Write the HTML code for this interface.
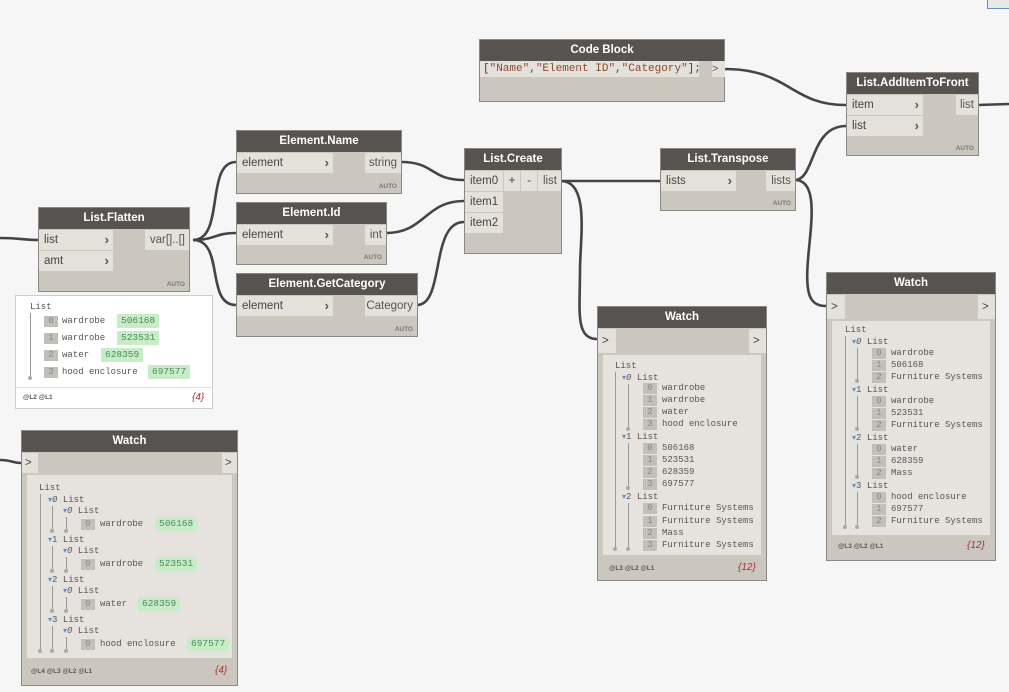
<!DOCTYPE html>
<html><head><meta charset="utf-8"><style>
body{margin:0;width:1009px;height:692px;background:#f6f6f6;position:relative;overflow:hidden;font-family:"Liberation Sans",sans-serif}
.n{position:absolute;background:#cbc7bf;border:1px solid #8b8882;box-sizing:border-box}
.h{position:absolute;left:0;right:0;top:0;height:21px;background:#575350;color:#fff;font-weight:bold;font-size:11.5px;text-align:center;line-height:21px}
.p{position:absolute;background:#e4e1db;font-size:11.5px;color:#444;line-height:20px;padding-left:5px;box-sizing:border-box}
.p b{position:absolute;right:4px;top:0;font-size:13px;color:#555}
.o{position:absolute;background:#e4e1db;font-size:11.5px;color:#555;line-height:20px;text-align:right;padding-right:4px;box-sizing:border-box}
.auto{position:absolute;right:4px;bottom:3px;font-size:6.5px;font-weight:bold;color:#777}
.m{position:absolute;font-family:"Liberation Mono",monospace;font-size:9px;color:#555;line-height:12px;white-space:pre}
.i{position:absolute;background:#c2bfba;color:#888;font-family:"Liberation Mono",monospace;font-size:9px;line-height:11px;width:14px;text-align:center}
.g{position:absolute;background:#c9ecc8;color:#4a8a5a;font-family:"Liberation Mono",monospace;font-size:9.5px;line-height:14px;padding:0 4px}
.vl{position:absolute;width:1px;background:#999}
.dot{position:absolute;width:4px;height:4px;border-radius:2px;background:#aaa}
.foot{position:absolute;font-size:6.5px;color:#555;font-weight:bold}
.cnt{position:absolute;font-size:10px;color:#a33;font-style:italic}
.tri{color:#5b8fc7;font-size:8px}
</style></head><body>
<svg width="1009" height="692" style="position:absolute;left:0;top:0" fill="none" stroke="#444" stroke-width="2.6">
<path d="M0,238 C20,238 25,240 38,240"/>
<path d="M193,240 C225,240 205,162 236,162"/>
<path d="M193,240 C215,240 215,233 236,233"/>
<path d="M193,240 C225,240 205,305 236,305"/>
<path d="M401,162 C435,162 430,180 464,180"/>
<path d="M386,233 C425,233 425,201 464,201"/>
<path d="M417,305 C445,305 430,222 464,222"/>
<path d="M561,181 L660,181"/>
<path d="M561,181 C590,181 580,240 580,270 C580,310 575,339 597,339"/>
<path d="M795,180 C815,180 810,126 846,126"/>
<path d="M795,180 C820,180 810,230 808,260 C805,295 810,306 826,306"/>
<path d="M724,69 C790,69 790,105 846,105"/>
<path d="M978,105 L1009,104"/>
<path d="M0,460 C12,460 12,463 21,463"/>
</svg>
<div style="position:absolute;left:987px;top:-2px;width:24px;height:9px;border:1px solid #6a8fc0;background:#e8e8e8"></div>

<div class="n" style="left:479px;top:39px;width:246px;height:63px"><div class="h">Code Block</div>
<div style="position:absolute;left:0;top:21px;width:216px;height:16px;background:#e4e1db;font-family:'Liberation Mono',monospace;font-size:11px;line-height:16px;color:#444;padding-left:3px;white-space:pre">[<span style="color:#8a4a2a">"Name"</span>,<span style="color:#8a4a2a">"Element ID"</span>,<span style="color:#8a4a2a">"Category"</span>];</div>
<div style="position:absolute;left:232px;top:21px;width:13px;height:16px;background:#e4e1db;font-size:11px;line-height:16px;color:#555">&gt;</div></div>

<div class="n" style="left:846px;top:72px;width:133px;height:84px"><div class="h">List.AddItemToFront</div>
<div class="p" style="left:0;top:22px;width:76px;height:20px">item<b>›</b></div>
<div class="p" style="left:0;top:43px;width:76px;height:20px">list<b>›</b></div>
<div class="o" style="left:109px;top:22px;width:22px;height:20px">list</div>
<div class="auto">AUTO</div></div>

<div class="n" style="left:464px;top:148px;width:98px;height:106px"><div class="h">List.Create</div>
<div class="p" style="left:0;top:22px;width:38px;height:20px">item0</div>
<div class="p" style="left:39px;top:22px;width:16px;height:20px;padding:0;text-align:center">+</div>
<div class="p" style="left:56px;top:22px;width:16px;height:20px;padding:0;text-align:center">-</div>
<div class="o" style="left:73px;top:22px;width:23px;height:20px">list</div>
<div class="p" style="left:0;top:43px;width:38px;height:20px">item1</div>
<div class="p" style="left:0;top:64px;width:38px;height:20px">item2</div></div>

<div class="n" style="left:660px;top:148px;width:136px;height:63px"><div class="h">List.Transpose</div>
<div class="p" style="left:0;top:22px;width:75px;height:20px">lists<b>›</b></div>
<div class="o" style="left:105px;top:22px;width:29px;height:20px">lists</div>
<div class="auto">AUTO</div></div>

<div class="n" style="left:236px;top:130px;width:166px;height:64px"><div class="h">Element.Name</div>
<div class="p" style="left:0;top:22px;width:96px;height:20px">element<b>›</b></div>
<div class="o" style="left:128px;top:22px;width:36px;height:20px">string</div>
<div class="auto">AUTO</div></div>

<div class="n" style="left:236px;top:202px;width:151px;height:63px"><div class="h">Element.Id</div>
<div class="p" style="left:0;top:22px;width:96px;height:20px">element<b>›</b></div>
<div class="o" style="left:128px;top:22px;width:21px;height:20px">int</div>
<div class="auto">AUTO</div></div>

<div class="n" style="left:236px;top:273px;width:182px;height:64px"><div class="h">Element.GetCategory</div>
<div class="p" style="left:0;top:22px;width:96px;height:20px">element<b>›</b></div>
<div class="o" style="left:128px;top:22px;width:52px;height:20px">Category</div>
<div class="auto">AUTO</div></div>

<div class="n" style="left:38px;top:207px;width:152px;height:85px"><div class="h">List.Flatten</div>
<div class="p" style="left:0;top:22px;width:74px;height:20px">list<b>›</b></div>
<div class="p" style="left:0;top:43px;width:74px;height:20px">amt<b>›</b></div>
<div class="o" style="left:106px;top:22px;width:44px;height:20px">var[]..[]</div>
<div class="auto">AUTO</div></div>

<div style="position:absolute;left:15px;top:295px;width:198px;height:114px;background:#fff;border:1px solid #ccc;box-sizing:border-box"></div>
<div style="position:absolute;left:16px;top:387px;width:196px;height:1px;background:#ddd"></div>
<div class="m" style="left:30px;top:301px">List</div>
<div class="vl" style="left:30px;top:313px;height:64px"></div><div class="dot" style="left:28px;top:376px"></div>
<div class="i" style="left:44px;top:316px">0</div><div class="m" style="left:62px;top:315px">wardrobe</div><div class="g" style="left:117px;top:314px">506168</div>
<div class="i" style="left:44px;top:333px">1</div><div class="m" style="left:62px;top:332px">wardrobe</div><div class="g" style="left:117px;top:331px">523531</div>
<div class="i" style="left:44px;top:350px">2</div><div class="m" style="left:62px;top:349px">water</div><div class="g" style="left:101px;top:348px">628359</div>
<div class="i" style="left:44px;top:367px">3</div><div class="m" style="left:62px;top:366px">hood enclosure</div><div class="g" style="left:148px;top:365px">697577</div>
<div class="foot" style="left:23px;top:394px">@L2 @L1</div><div class="cnt" style="left:192px;top:392px">{4}</div>

<div class="n" style="left:597px;top:306px;width:170px;height:275px"><div class="h">Watch</div>
<div class="p" style="left:0;top:22px;width:18px;height:24px;line-height:24px;padding-left:4px">&gt;</div>
<div class="p" style="left:151px;top:22px;width:17px;height:24px;line-height:24px;padding-left:4px">&gt;</div>
<div style="position:absolute;left:5px;top:48px;width:158px;height:200px;background:#e6e3de"></div>
<div class="foot" style="left:11px;top:258px">@L3 @L2 @L1</div><div class="cnt" style="left:140px;top:255px">{12}</div></div>
<div class="m" style="left:615px;top:360px">List</div>
<div class="vl" style="left:615px;top:372px;height:176px"></div><div class="dot" style="left:613px;top:547px"></div>
<div class="m" style="left:622px;top:372px"><span class="tri">▾</span><i>0</i> List</div>
<div class="vl" style="left:628px;top:384px;height:44px"></div><div class="dot" style="left:626px;top:427px"></div>
<div class="i" style="left:643px;top:383px">0</div><div class="m" style="left:662px;top:382px">wardrobe</div>
<div class="i" style="left:643px;top:395px">1</div><div class="m" style="left:662px;top:394px">wardrobe</div>
<div class="i" style="left:643px;top:407px">2</div><div class="m" style="left:662px;top:406px">water</div>
<div class="i" style="left:643px;top:419px">3</div><div class="m" style="left:662px;top:418px">hood enclosure</div>
<div class="m" style="left:622px;top:431px"><span class="tri">▾</span>1 List</div>
<div class="vl" style="left:628px;top:443px;height:44px"></div><div class="dot" style="left:626px;top:486px"></div>
<div class="i" style="left:643px;top:443px">0</div><div class="m" style="left:662px;top:442px">506168</div>
<div class="i" style="left:643px;top:455px">1</div><div class="m" style="left:662px;top:454px">523531</div>
<div class="i" style="left:643px;top:467px">2</div><div class="m" style="left:662px;top:466px">628359</div>
<div class="i" style="left:643px;top:479px">3</div><div class="m" style="left:662px;top:478px">697577</div>
<div class="m" style="left:622px;top:491px"><span class="tri">▾</span>2 List</div>
<div class="vl" style="left:628px;top:503px;height:45px"></div><div class="dot" style="left:626px;top:547px"></div>
<div class="i" style="left:643px;top:503px">0</div><div class="m" style="left:662px;top:502px">Furniture Systems</div>
<div class="i" style="left:643px;top:516px">1</div><div class="m" style="left:662px;top:515px">Furniture Systems</div>
<div class="i" style="left:643px;top:528px">2</div><div class="m" style="left:662px;top:527px">Mass</div>
<div class="i" style="left:643px;top:540px">3</div><div class="m" style="left:662px;top:539px">Furniture Systems</div>

<div class="n" style="left:826px;top:272px;width:170px;height:289px"><div class="h">Watch</div>
<div class="p" style="left:0;top:22px;width:18px;height:24px;line-height:24px;padding-left:4px">&gt;</div>
<div class="p" style="left:151px;top:22px;width:17px;height:24px;line-height:24px;padding-left:4px">&gt;</div>
<div style="position:absolute;left:5px;top:48px;width:158px;height:214px;background:#e6e3de"></div>
<div class="foot" style="left:11px;top:270px">@L3 @L2 @L1</div><div class="cnt" style="left:140px;top:267px">{12}</div></div>
<div class="m" style="left:845px;top:324px">List</div>
<div class="vl" style="left:845px;top:336px;height:190px"></div><div class="dot" style="left:843px;top:525px"></div>
<div class="m" style="left:852px;top:336px"><span class="tri">▾</span><i>0</i> List</div>
<div class="vl" style="left:857px;top:348px;height:32px"></div><div class="dot" style="left:855px;top:379px"></div>
<div class="i" style="left:872px;top:348px">0</div><div class="m" style="left:891px;top:347px">wardrobe</div>
<div class="i" style="left:872px;top:360px">1</div><div class="m" style="left:891px;top:359px">506168</div>
<div class="i" style="left:872px;top:372px">2</div><div class="m" style="left:891px;top:371px">Furniture Systems</div>
<div class="m" style="left:852px;top:384px"><span class="tri">▾</span>1 List</div>
<div class="vl" style="left:857px;top:396px;height:32px"></div><div class="dot" style="left:855px;top:427px"></div>
<div class="i" style="left:872px;top:396px">0</div><div class="m" style="left:891px;top:395px">wardrobe</div>
<div class="i" style="left:872px;top:408px">1</div><div class="m" style="left:891px;top:407px">523531</div>
<div class="i" style="left:872px;top:420px">2</div><div class="m" style="left:891px;top:419px">Furniture Systems</div>
<div class="m" style="left:852px;top:432px"><span class="tri">▾</span>2 List</div>
<div class="vl" style="left:857px;top:444px;height:32px"></div><div class="dot" style="left:855px;top:475px"></div>
<div class="i" style="left:872px;top:444px">0</div><div class="m" style="left:891px;top:443px">water</div>
<div class="i" style="left:872px;top:456px">1</div><div class="m" style="left:891px;top:455px">628359</div>
<div class="i" style="left:872px;top:468px">2</div><div class="m" style="left:891px;top:467px">Mass</div>
<div class="m" style="left:852px;top:480px"><span class="tri">▾</span>3 List</div>
<div class="vl" style="left:857px;top:492px;height:34px"></div><div class="dot" style="left:855px;top:525px"></div>
<div class="i" style="left:872px;top:492px">0</div><div class="m" style="left:891px;top:491px">hood enclosure</div>
<div class="i" style="left:872px;top:504px">1</div><div class="m" style="left:891px;top:503px">697577</div>
<div class="i" style="left:872px;top:516px">2</div><div class="m" style="left:891px;top:515px">Furniture Systems</div>

<div class="n" style="left:21px;top:430px;width:217px;height:256px"><div class="h">Watch</div>
<div class="p" style="left:0;top:22px;width:16px;height:20px;padding-left:3px">&gt;</div>
<div class="p" style="left:200px;top:22px;width:15px;height:20px;padding-left:3px">&gt;</div>
<div style="position:absolute;left:5px;top:44px;width:205px;height:183px;background:#e6e3de"></div>
<div class="foot" style="left:9px;top:237px">@L4 @L3 @L2 @L1</div><div class="cnt" style="left:193px;top:234px">{4}</div></div>
<div class="m" style="left:39px;top:482px">List</div>
<div class="vl" style="left:40px;top:494px;height:156px"></div><div class="dot" style="left:38px;top:649px"></div>
<div class="m" style="left:48px;top:494px"><span class="tri">▾</span><i>0</i> List</div>
<div class="vl" style="left:52px;top:506px;height:24px"></div><div class="dot" style="left:50px;top:529px"></div>
<div class="m" style="left:63px;top:505px"><span class="tri">▾</span><i>0</i> List</div>
<div class="vl" style="left:66px;top:517px;height:13px"></div><div class="dot" style="left:64px;top:529px"></div>
<div class="i" style="left:81px;top:519px">0</div><div class="m" style="left:100px;top:518px">wardrobe</div><div class="g" style="left:155px;top:517px">506168</div>
<div class="m" style="left:48px;top:534px"><span class="tri">▾</span>1 List</div>
<div class="vl" style="left:52px;top:546px;height:24px"></div><div class="dot" style="left:50px;top:569px"></div>
<div class="m" style="left:63px;top:545px"><span class="tri">▾</span><i>0</i> List</div>
<div class="vl" style="left:66px;top:557px;height:13px"></div><div class="dot" style="left:64px;top:569px"></div>
<div class="i" style="left:81px;top:559px">0</div><div class="m" style="left:100px;top:558px">wardrobe</div><div class="g" style="left:155px;top:557px">523531</div>
<div class="m" style="left:48px;top:574px"><span class="tri">▾</span>2 List</div>
<div class="vl" style="left:52px;top:586px;height:24px"></div><div class="dot" style="left:50px;top:609px"></div>
<div class="m" style="left:63px;top:585px"><span class="tri">▾</span><i>0</i> List</div>
<div class="vl" style="left:66px;top:597px;height:13px"></div><div class="dot" style="left:64px;top:609px"></div>
<div class="i" style="left:81px;top:599px">0</div><div class="m" style="left:100px;top:598px">water</div><div class="g" style="left:138px;top:597px">628359</div>
<div class="m" style="left:48px;top:614px"><span class="tri">▾</span>3 List</div>
<div class="vl" style="left:52px;top:626px;height:24px"></div><div class="dot" style="left:50px;top:649px"></div>
<div class="m" style="left:63px;top:625px"><span class="tri">▾</span><i>0</i> List</div>
<div class="vl" style="left:66px;top:637px;height:13px"></div><div class="dot" style="left:64px;top:649px"></div>
<div class="i" style="left:81px;top:639px">0</div><div class="m" style="left:100px;top:638px">hood enclosure</div><div class="g" style="left:187px;top:637px">697577</div>
</body></html>
